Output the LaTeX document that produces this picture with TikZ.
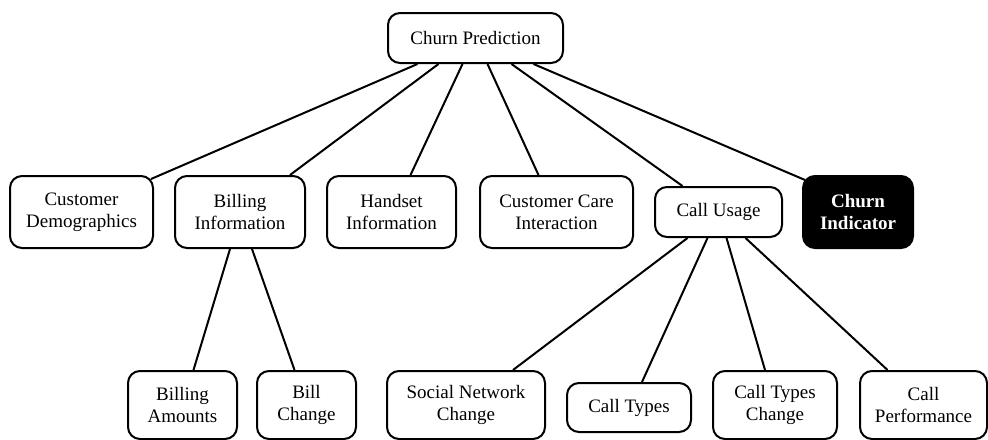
\documentclass[tikz,border=0pt]{standalone}
\usepackage{fontspec}
\setmainfont{Liberation Serif}
\usetikzlibrary{calc}

\begin{document}
\begin{tikzpicture}[x=0.5pt, y=-0.5pt,
    box/.style={draw, line width=1pt, rounded corners=6pt, align=center, inner sep=0pt,
      font=\fontsize{9.5}{11}\selectfont},
    link/.style={line width=1pt}]
  \def\yT{38} \def\yM{212} \def\yB{405}
  \useasboundingbox (0,0) rectangle (988,439);
  \node[box, minimum width=87.5pt, minimum height=25pt] (root) at (475.5,\yT) {Churn Prediction};
  \node[box, minimum width=71.5pt, minimum height=36pt] (custdemo) at (81.5,\yM) {Customer\\Demographics};
  \node[box, minimum width=65pt, minimum height=36pt] (billinfo) at (240,\yM) {Billing\\Information};
  \node[box, minimum width=64.5pt, minimum height=36pt] (handset) at (391.5,\yM) {Handset\\Information};
  \node[box, minimum width=76.5pt, minimum height=36pt] (care) at (556.5,\yM) {Customer Care\\Interaction};
  \node[box, minimum width=63.5pt, minimum height=25pt] (callusage) at (718.5,\yM) {Call Usage};
  \node[box, fill=black, text=white, font=\fontsize{9.5}{11}\selectfont\bfseries,
        minimum width=55pt, minimum height=36pt] (churnind) at (858,\yM) {Churn\\Indicator};
  \node[box, minimum width=54.5pt, minimum height=34pt] (billamt) at (182.5,\yB) {Billing\\Amounts};
  \node[box, minimum width=49.5pt, minimum height=34pt] (billchg) at (306.5,\yB) {Bill\\Change};
  \node[box, minimum width=79pt, minimum height=34pt] (social) at (466,\yB) {Social Network\\Change};
  \node[box, minimum width=62pt, minimum height=24.5pt] (calltypes) at (629,407.5) {Call Types};
  \node[box, minimum width=62pt, minimum height=34pt] (ctchange) at (775,\yB) {Call Types\\Change};
  \node[box, minimum width=63.5pt, minimum height=34pt] (callperf) at (923.5,\yB) {Call\\Performance};
  % ends spread along the bottom of each parent box
  \draw[link] ($(root.south)+(-58,0)$) -- ($(custdemo.north east)+(-3,4)$);
  \draw[link] ($(root.south)+(-37,0)$) -- ($(billinfo.north)+(50,0)$);
  \draw[link] ($(root.south)+(-13,0)$) -- ($(handset.north)+(19,0)$);
  \draw[link] ($(root.south)+(12,0)$) -- ($(care.north)+(-18,0)$);
  \draw[link] ($(root.south)+(36,0)$) -- ($(callusage.north)+(-36,0)$);
  \draw[link] ($(root.south)+(58,0)$) -- ($(churnind.north west)+(3,5)$);
  \draw[link] ($(billinfo.south)+(-10,0)$) -- ($(billamt.north)+(11,0)$);
  \draw[link] ($(billinfo.south)+(12,0)$) -- ($(billchg.north)+(-12,0)$);
  \draw[link] ($(callusage.south)+(-31,0)$) -- ($(social.north)+(47,0)$);
  \draw[link] ($(callusage.south)+(-11,0)$) -- ($(calltypes.north)+(13,0)$);
  \draw[link] ($(callusage.south)+(8,0)$) -- ($(ctchange.north)+(-10,0)$);
  \draw[link] ($(callusage.south)+(27,0)$) -- ($(callperf.north)+(-36,0)$);
\end{tikzpicture}
\end{document}
